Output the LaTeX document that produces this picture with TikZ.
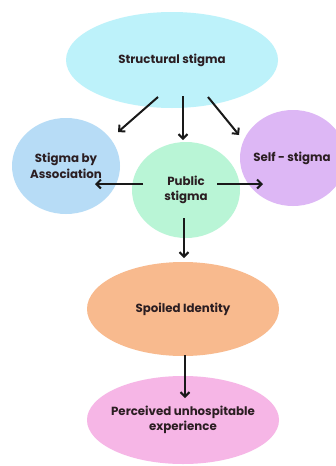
\documentclass[tikz,border=0pt]{standalone}
\usepackage{fontspec}
\setmainfont{Poppins}
\usetikzlibrary{arrows.meta,shapes.geometric}
\definecolor{cStruct}{HTML}{BDF2FA}
\definecolor{cAssoc}{HTML}{B7DCF6}
\definecolor{cPublic}{HTML}{B9F5D6}
\definecolor{cSelf}{HTML}{DDB7F5}
\definecolor{cSpoil}{HTML}{F8BA8E}
\definecolor{cPerc}{HTML}{F6B6E6}
\definecolor{cText}{HTML}{2B1E22}
\tikzset{
  blob/.style={ellipse, inner sep=0pt},
  lbl/.style={inner sep=0pt, text=cText, align=center,
    font=\fontsize{11.8}{15.5}\selectfont\bfseries},
  conn/.style={line width=2pt, black!90, -{Straight Barb[length=4.5pt,width=9pt,line width=2pt]}},
}
\begin{document}
\begin{tikzpicture}[x=1pt,y=-1pt]
\useasboundingbox (0,0) rectangle (336,466);
\fill[white] (0,0) rectangle (336,466);
\begin{scope}
\clip (0,0) rectangle (336,466);
\node[blob, fill=cStruct, minimum width=212pt, minimum height=96pt] (struct) at (172,60) {};
\node[blob, fill=cAssoc, minimum width=108pt, minimum height=96pt] (assoc) at (66,166) {};
\node[blob, fill=cPublic, minimum width=108pt, minimum height=96pt] (public) at (186,190) {};
\node[blob, fill=cSelf, minimum width=106pt, minimum height=96pt] (self) at (293,158) {};
\node[blob, fill=cSpoil, minimum width=192pt, minimum height=94pt] (spoil) at (183,309) {};
\node[blob, fill=cPerc, minimum width=192pt, minimum height=88pt] (perc) at (183,420) {};
\end{scope}
\node[lbl] (tstruct) at (struct) {Structural stigma};
\node[lbl] (tassoc) at (assoc) {Stigma by\\Association};
\node[lbl] (tpublic) at (public) {Public\\stigma};
\node[lbl] (tself) at (292,158) {Self - stigma};
\node[lbl] (tspoil) at (spoil) {Spoiled Identity};
\node[lbl] (tperc) at (perc) {Perceived unhospitable\\experience};
\coordinate (s1) at (158,97);
\coordinate (e1) at (118,132);
\coordinate (s2) at (183,96);
\coordinate (e2) at (183,140);
\coordinate (s3) at (208,97);
\coordinate (e3) at (239,135);
\coordinate (s4) at (143,184);
\coordinate (e4) at (95,184);
\coordinate (s5) at (217,184);
\coordinate (e5) at (263,184);
\coordinate (s6) at (184,218);
\coordinate (e6) at (184,258);
\coordinate (s7) at (185,355);
\coordinate (e7) at (185,398);
\draw[conn] (s1) -- (e1);
\draw[conn] (s2) -- (e2);
\draw[conn] (s3) -- (e3);
\draw[conn] (s4) -- (e4);
\draw[conn] (s5) -- (e5);
\draw[conn] (s6) -- (e6);
\draw[conn] (s7) -- (e7);
\end{tikzpicture}
\end{document}
